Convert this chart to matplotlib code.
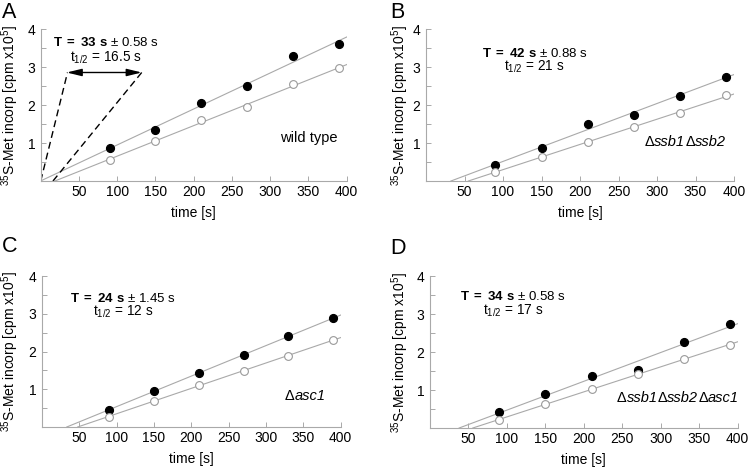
import numpy as np
import matplotlib
matplotlib.use("Agg")
import matplotlib.pyplot as plt

plt.rcParams['font.family'] = ['Liberation Sans', 'DejaVu Sans']
plt.rcParams['mathtext.fontset'] = 'custom'
plt.rcParams['mathtext.rm'] = 'Liberation Sans'
plt.rcParams['mathtext.it'] = 'Liberation Sans:italic'
plt.rcParams['mathtext.bf'] = 'Liberation Sans:bold'

# time points [s]
time = [90, 150, 210, 270, 330, 390]

# 35S-Met incorporation (x10^5 cpm), filled = total, open = released
a_filled = [0.88, 1.34, 2.05, 2.51, 3.29, 3.60]
a_open = [0.56, 1.06, 1.60, 1.94, 2.56, 2.97]
b_filled = [0.42, 0.87, 1.49, 1.73, 2.25, 2.75]
b_open = [0.25, 0.62, 1.04, 1.42, 1.78, 2.27]
c_filled = [0.45, 0.96, 1.44, 1.90, 2.41, 2.89]
c_open = [0.27, 0.70, 1.11, 1.49, 1.89, 2.31]
d_filled = [0.41, 0.90, 1.36, 1.52, 2.28, 2.74]
d_open = [0.22, 0.62, 1.03, 1.42, 1.81, 2.20]

letters = ['A', 'B', 'C', 'D']
# strain names as (text, italic) pieces
strains = [
    [('wild type', False)],
    [('Δ', False), ('ssb1', True), ('Δ', False), ('ssb2', True)],
    [('Δ', False), ('asc1', True)],
    [('Δ', False), ('ssb1', True), ('Δ', False), ('ssb2', True), ('Δ', False), ('asc1', True)],
]
T_vals = ['33', '42', '24', '34']
T_err = ['0.58', '0.88', '1.45', '0.58']
t_half = ['16.5', '21', '12', '17']

# panel A guide: lines from x-intercepts to the arrow level
guide_start = [0, 16]
guide_end = [35, 132]
guide_level = 2.86

gray = '#a9a9a9'

fig = plt.figure(figsize=(7.5, 4.67), dpi=100)
rects = [
    [0.0543, 0.6124, 0.408, 0.325],
    [0.568, 0.6124, 0.4107, 0.325],
    [0.056, 0.0857, 0.3983, 0.3227],
    [0.5733, 0.0835, 0.4103, 0.3249],
]
data = [(a_filled, a_open), (b_filled, b_open), (c_filled, c_open), (d_filled, d_open)]
text_pos = [(85, 3.64, 3.26), (141, 3.37, 3.02), (108, 3.42, 3.05), (108, 3.48, 3.10)]
strain_pos = [(313, 1.13), (284, 1.03), (325, 0.82), (243, 0.79)]
ylab_x = [-0.10, -0.084, -0.107, -0.098]
letter_pos = [(0.003, 0.995), (0.52, 0.995), (0.003, 0.495), (0.52, 0.49)]

for i in range(4):
    ax = fig.add_axes(rects[i])
    filled, opened = data[i]
    for ys in (filled, opened):
        k, b = np.polyfit(time, ys, 1)
        x0 = -b / k
        xs = np.array([x0, 400])
        ax.plot(xs, k * xs + b, color=gray, lw=0.8, zorder=1)
    ax.plot(time, filled, 'o', color='black', ms=5.6, zorder=3)
    ax.plot(time, opened, 'o', mfc='white', mec='#9a9a9a', mew=0.8, ms=5.6, zorder=3)

    ax.set_xlim(0, 400)
    ax.set_ylim(0, 4)
    ax.set_xticks(np.arange(50, 401, 50))
    ax.set_yticks([1, 2, 3, 4])
    ax.set_yticks(np.arange(0.5, 4, 1), minor=True)
    ax.tick_params(axis='both', which='both', direction='in', length=3.5,
                   width=0.7, color=gray, labelsize=10)
    ax.tick_params(axis='y', pad=4)
    ax.tick_params(axis='x', pad=3)
    for s in ['top', 'right']:
        ax.spines[s].set_visible(False)
    for s in ['left', 'bottom']:
        ax.spines[s].set_color(gray)
        ax.spines[s].set_linewidth(0.8)

    ax.set_xlabel('time [s]', fontsize=10, labelpad=5)
    ax.set_ylabel(r'$^{35}$S-Met incorp [cpm x10$^{5}$]', fontsize=10, va='center')
    ax.yaxis.set_label_coords(ylab_x[i], 0.5)

    tx, ty1, ty2 = text_pos[i]
    ax.text(tx, ty1, r'$\mathbf{T\ =\ %s\ s}$ ± %s s' % (T_vals[i], T_err[i]),
            ha='center', va='center', fontsize=9.5)
    ax.text(tx, ty2, r't$_{\mathrm{1/2}}$ = %s s' % t_half[i],
            ha='center', va='center', fontsize=9.8)

    sx, sy = strain_pos[i]
    prev = None
    for piece, ital in strains[i]:
        style = 'italic' if ital else 'normal'
        if prev is None:
            prev = ax.text(sx, sy, piece, ha='left', va='center', fontsize=10.5,
                           fontstyle=style)
        else:
            prev = ax.annotate(piece, xy=(1, 0), xycoords=prev,
                               ha='left', va='bottom', fontsize=10.5, fontstyle=style)

    fig.text(letter_pos[i][0], letter_pos[i][1], letters[i], fontsize=15.5,
             ha='left', va='top')

    if i == 0:
        for xs0, xs1 in zip(guide_start, guide_end):
            ax.plot([xs0, xs1], [0, guide_level], color='black', lw=1,
                    linestyle=(0, (5, 3)), zorder=2)
        ax.annotate('', xy=(guide_end[0] - 1, guide_level),
                    xytext=(guide_end[1], guide_level),
                    arrowprops=dict(arrowstyle='<|-|>,head_length=0.9,head_width=0.22',
                                    color='black', lw=1, shrinkA=0, shrinkB=0))

fig.savefig('out.png', dpi=100)
